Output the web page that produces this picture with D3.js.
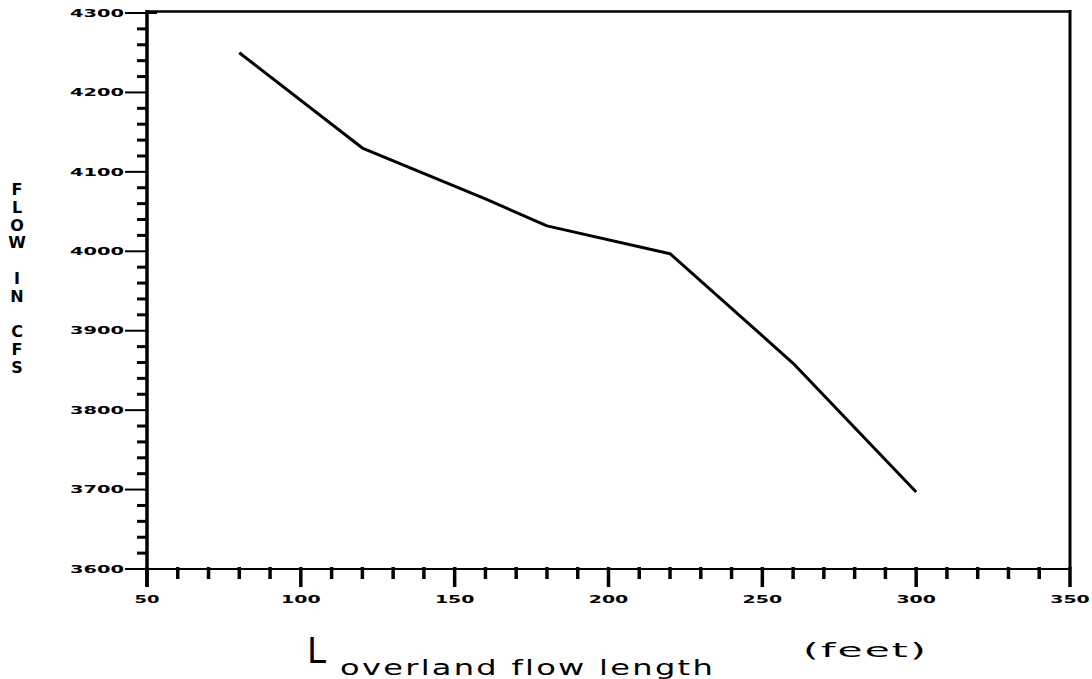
<!DOCTYPE html>
<html>
<head>
<meta charset="utf-8">
<script src="https://cdn.jsdelivr.net/npm/d3@7"></script>
<style>
  html, body { margin: 0; padding: 0; background: #fff; }
  svg { display: block; }
  text { font-family: "DejaVu Sans", sans-serif; fill: #000; }
</style>
</head>
<body>
<svg id="chart" width="1092" height="679"></svg>
<script>
// ---- data ----
const lengths = [80, 120, 160, 180, 220, 260, 300];
const flows   = [4250, 4130, 4066, 4032, 3997, 3859, 3697];
const xMajorTicks = [50, 100, 150, 200, 250, 300, 350];
const yMajorTicks = [3600, 3700, 3800, 3900, 4000, 4100, 4200, 4300];
const yTitleLetters = ["F", "L", "O", "W", "", "I", "N", "", "C", "F", "S"];
const xTitleMain = "L";
const xTitleSub = "overland flow length";
const xTitleUnit = "(feet)";

// ---- layout ----
const svg = d3.select("#chart");
const x = d3.scaleLinear().domain([50, 350]).range([147, 1070]);
const y = d3.scaleLinear().domain([3600, 4300]).range([569, 13]);

const xMinor = d3.range(50, 351, 10).filter(v => xMajorTicks.indexOf(v) < 0);
const yMinor = d3.range(3600, 4301, 20).filter(v => yMajorTicks.indexOf(v) < 0);

// frame: top and right borders
svg.append("line").attr("x1", x(50)).attr("x2", x(350)).attr("y1", y(4300) - 1.5).attr("y2", y(4300) - 1.5)
  .attr("stroke", "#000").attr("stroke-width", 2.5);
svg.append("line").attr("x1", x(350)).attr("x2", x(350)).attr("y1", y(4300) - 3).attr("y2", y(3600))
  .attr("stroke", "#000").attr("stroke-width", 3);

// x axis line
svg.append("line").attr("x1", x(50)).attr("x2", x(350)).attr("y1", y(3600)).attr("y2", y(3600))
  .attr("stroke", "#000").attr("stroke-width", 2.2);
// y axis line
svg.append("line").attr("x1", x(50)).attr("x2", x(50)).attr("y1", y(4300) - 3).attr("y2", y(3600) + 18)
  .attr("stroke", "#000").attr("stroke-width", 3.5);

// x ticks
svg.append("g").selectAll("line").data(xMinor).join("line")
  .attr("x1", d => x(d)).attr("x2", d => x(d))
  .attr("y1", y(3600) - 2).attr("y2", y(3600) + 10)
  .attr("stroke", "#000").attr("stroke-width", 3.5);
svg.append("g").selectAll("line").data(xMajorTicks).join("line")
  .attr("x1", d => x(d)).attr("x2", d => x(d))
  .attr("y1", y(3600) - 2).attr("y2", y(3600) + 18)
  .attr("stroke", "#000").attr("stroke-width", 3.5);

// y ticks
svg.append("g").selectAll("line").data(yMinor).join("line")
  .attr("x1", x(50) - 10).attr("x2", x(50))
  .attr("y1", d => y(d)).attr("y2", d => y(d))
  .attr("stroke", "#000").attr("stroke-width", 3);
svg.append("g").selectAll("line").data(yMajorTicks).join("line")
  .attr("x1", x(50) - 22).attr("x2", d => d === 4300 ? x(50) + 10 : x(50))
  .attr("y1", d => y(d)).attr("y2", d => y(d))
  .attr("stroke", "#000").attr("stroke-width", 2);

// tick labels
function lblLen(s) { return s.length * 14.5 - 4; }
svg.append("g").selectAll("text").data(xMajorTicks).join("text")
  .attr("x", d => x(d)).attr("y", 603)
  .attr("text-anchor", "middle")
  .attr("font-size", 10).attr("font-weight", "bold")
  .attr("textLength", d => lblLen(String(d)))
  .attr("lengthAdjust", "spacingAndGlyphs")
  .text(d => String(d));
svg.append("g").selectAll("text").data(yMajorTicks).join("text")
  .attr("x", 124).attr("y", d => y(d) + 3.7)
  .attr("text-anchor", "end")
  .attr("font-size", 10).attr("font-weight", "bold")
  .attr("textLength", d => lblLen(String(d)))
  .attr("lengthAdjust", "spacingAndGlyphs")
  .text(d => String(d));

// data line
const line = d3.line().x((d, i) => x(lengths[i])).y(d => y(d));
svg.append("path").datum(flows)
  .attr("d", line)
  .attr("fill", "none").attr("stroke", "#000")
  .attr("stroke-width", 3).attr("stroke-linejoin", "round");

// y title: stacked letters
svg.append("g").selectAll("text").data(yTitleLetters).join("text")
  .attr("x", 17).attr("y", (d, i) => 195 + i * 17.8)
  .attr("text-anchor", "middle")
  .attr("font-size", 16).attr("font-weight", "bold")
  .text(d => d);

// x title
svg.append("text").attr("x", 307).attr("y", 663)
  .attr("font-size", 35)
  .attr("textLength", 19).attr("lengthAdjust", "spacingAndGlyphs")
  .text(xTitleMain);
svg.append("text").attr("x", 340).attr("y", 675)
  .attr("font-size", 21).attr("letter-spacing", 1.5)
  .attr("textLength", 375).attr("lengthAdjust", "spacingAndGlyphs")
  .text(xTitleSub);
svg.append("text").attr("x", 803).attr("y", 657)
  .attr("font-size", 19).attr("letter-spacing", 1)
  .attr("textLength", 125).attr("lengthAdjust", "spacingAndGlyphs")
  .text(xTitleUnit);
</script>
</body>
</html>
